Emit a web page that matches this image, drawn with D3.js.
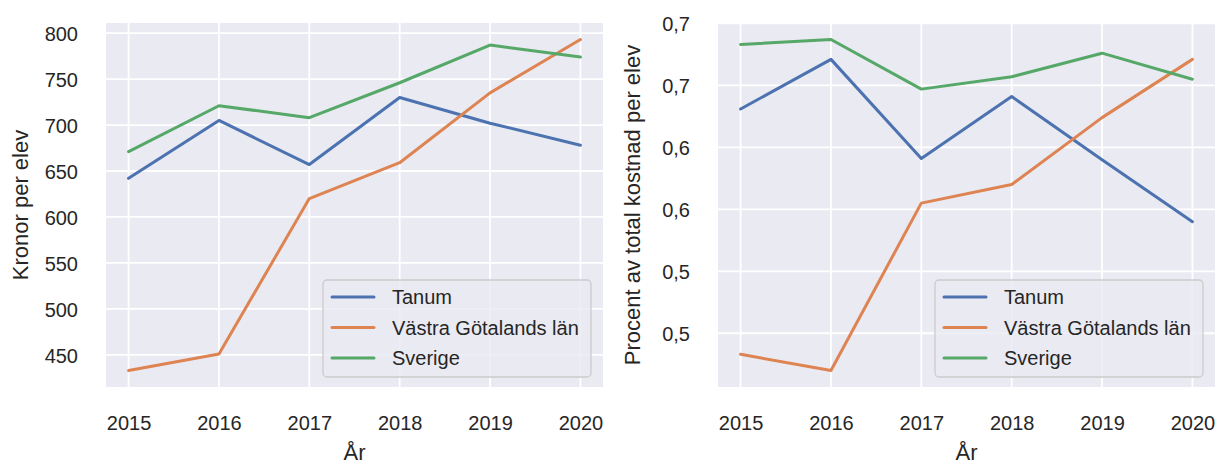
<!DOCTYPE html>
<html>
<head>
<meta charset="utf-8">
<script src="https://cdn.jsdelivr.net/npm/d3@7"></script>
<style>
    body { margin: 0; background: #fff; }
    svg { display: block; }
    text { font-family: "Liberation Sans", Arial, sans-serif; fill: #262626; }
</style>
</head>
<body>
<div id="chart"></div>
<script>
const years = [2015, 2016, 2017, 2018, 2019, 2020]
const seriesNames = ["Tanum", "Västra Götalands län", "Sverige"]
const seriesColors = ["#4c72b0", "#dd8452", "#55a868"]

// Kronor per elev
const kronorTanum = [642, 705, 657, 730, 702, 678]
const kronorVG = [433, 451, 620, 659, 735, 793]
const kronorSverige = [671, 721, 708, 746, 787, 774]
const kronorTicks = [450, 500, 550, 600, 650, 700, 750, 800]
const kronorTickLabels = ["450", "500", "550", "600", "650", "700", "750", "800"]

// Procent av total kostnad per elev
const procentTanum = [0.631, 0.671, 0.591, 0.641, 0.590, 0.540]
const procentVG = [0.433, 0.420, 0.555, 0.570, 0.624, 0.671]
const procentSverige = [0.683, 0.687, 0.647, 0.657, 0.676, 0.655]
const procentTicks = [0.45, 0.50, 0.55, 0.60, 0.65, 0.70]
const procentTickLabels = ["0,5", "0,5", "0,6", "0,6", "0,7", "0,7"]

const W = 1217, H = 464

const svg = d3.select("#chart").append("svg")
    .attr("width", W)
    .attr("height", H)

function drawPanel(cfg) {
    const g = svg.append("g")
    const x = d3.scaleLinear()
        .domain([years[0] - 0.25, years[years.length - 1] + 0.25])
        .range([cfg.left, cfg.right])

    // matplotlib style 5% margin
    const all = cfg.series.flat()
    const [lo, hi] = d3.extent(all)
    const pad = (hi - lo) * 0.05
    const y = d3.scaleLinear()
        .domain([lo - pad, hi + pad])
        .range([cfg.bottom, cfg.top])

    g.append("rect")
        .attr("x", cfg.left)
        .attr("y", cfg.top)
        .attr("width", cfg.right - cfg.left)
        .attr("height", cfg.bottom - cfg.top)
        .attr("fill", "#eaeaf2")

    const clipId = "clip" + cfg.id
    g.append("clipPath").attr("id", clipId)
        .append("rect")
        .attr("x", cfg.left)
        .attr("y", cfg.top)
        .attr("width", cfg.right - cfg.left)
        .attr("height", cfg.bottom - cfg.top)

    const grid = g.append("g").attr("clip-path", `url(#${clipId})`)
    grid.selectAll(".vgrid")
        .data(years)
        .join("line")
        .attr("x1", d => x(d)).attr("x2", d => x(d))
        .attr("y1", cfg.top).attr("y2", cfg.bottom)
        .attr("stroke", "#fff")
        .attr("stroke-width", 1.8)
    grid.selectAll(".hgrid")
        .data(cfg.ticks)
        .join("line")
        .attr("x1", cfg.left).attr("x2", cfg.right)
        .attr("y1", d => y(d)).attr("y2", d => y(d))
        .attr("stroke", "#fff")
        .attr("stroke-width", 1.8)

    // axes via d3 axis, domain + tick lines hidden
    const xAxis = g.append("g")
        .attr("transform", `translate(0,${cfg.bottom})`)
        .call(d3.axisBottom(x).tickValues(years).tickFormat(d3.format("d")).tickSize(0).tickPadding(43))
    xAxis.select(".domain").remove()
    xAxis.selectAll("text")
        .attr("font-size", "20px")
        .attr("fill", "#262626")
        .attr("dy", 0)
        .attr("font-family", "Liberation Sans, Arial, sans-serif")

    const yAxis = g.append("g")
        .attr("transform", `translate(${cfg.left},0)`)
        .call(d3.axisLeft(y).tickValues(cfg.ticks)
            .tickFormat((d, i) => cfg.tickLabels[i]).tickSize(0).tickPadding(28))
    yAxis.select(".domain").remove()
    yAxis.selectAll("text")
        .attr("font-size", "20px")
        .attr("fill", "#262626")
        .attr("dy", "0.36em")
        .attr("font-family", "Liberation Sans, Arial, sans-serif")

    // lines
    const line = d3.line()
        .x((d, i) => x(years[i]))
        .y(d => y(d))
    g.append("g").attr("clip-path", `url(#${clipId})`)
        .selectAll("path")
        .data(cfg.series)
        .join("path")
        .attr("d", d => line(d))
        .attr("fill", "none")
        .attr("stroke", (d, i) => seriesColors[i])
        .attr("stroke-width", 3)
        .attr("stroke-linecap", "round")
        .attr("stroke-linejoin", "round")

    // axis labels
    g.append("text")
        .attr("x", (cfg.left + cfg.right) / 2)
        .attr("y", 460)
        .attr("text-anchor", "middle")
        .attr("font-size", "22px")
        .text("År")
    g.append("text")
        .attr("transform", `translate(${cfg.left - 78},${(cfg.top + cfg.bottom) / 2}) rotate(-90)`)
        .attr("text-anchor", "middle")
        .attr("font-size", "22px")
        .text(cfg.yLabel)

    // legend
    const lg = g.append("g")
        .attr("transform", `translate(${cfg.right - 280},280)`)
    lg.append("rect")
        .attr("x", 0).attr("y", 0)
        .attr("width", 268).attr("height", 97)
        .attr("rx", 4)
        .attr("fill", "#eaeaf2")
        .attr("fill-opacity", 0.8)
        .attr("stroke", "#cccccc")
        .attr("stroke-width", 1.3)
    const items = lg.selectAll(".item")
        .data(seriesNames)
        .join("g")
        .attr("transform", (d, i) => `translate(0,${17 + i * 30.5})`)
    items.append("line")
        .attr("x1", 9).attr("x2", 51)
        .attr("y1", 0).attr("y2", 0)
        .attr("stroke", (d, i) => seriesColors[i])
        .attr("stroke-width", 3)
        .attr("stroke-linecap", "round")
    items.append("text")
        .attr("x", 69)
        .attr("y", 0)
        .attr("dy", "0.36em")
        .attr("font-size", "20px")
        .text(d => d)
}

drawPanel({
    id: "a",
    left: 106, right: 603, top: 23, bottom: 387,
    series: [kronorTanum, kronorVG, kronorSverige],
    ticks: kronorTicks,
    tickLabels: kronorTickLabels,
    yLabel: "Kronor per elev"
})

drawPanel({
    id: "b",
    left: 718, right: 1215, top: 23, bottom: 387,
    series: [procentTanum, procentVG, procentSverige],
    ticks: procentTicks,
    tickLabels: procentTickLabels,
    yLabel: "Procent av total kostnad per elev"
})
</script>
</body>
</html>
